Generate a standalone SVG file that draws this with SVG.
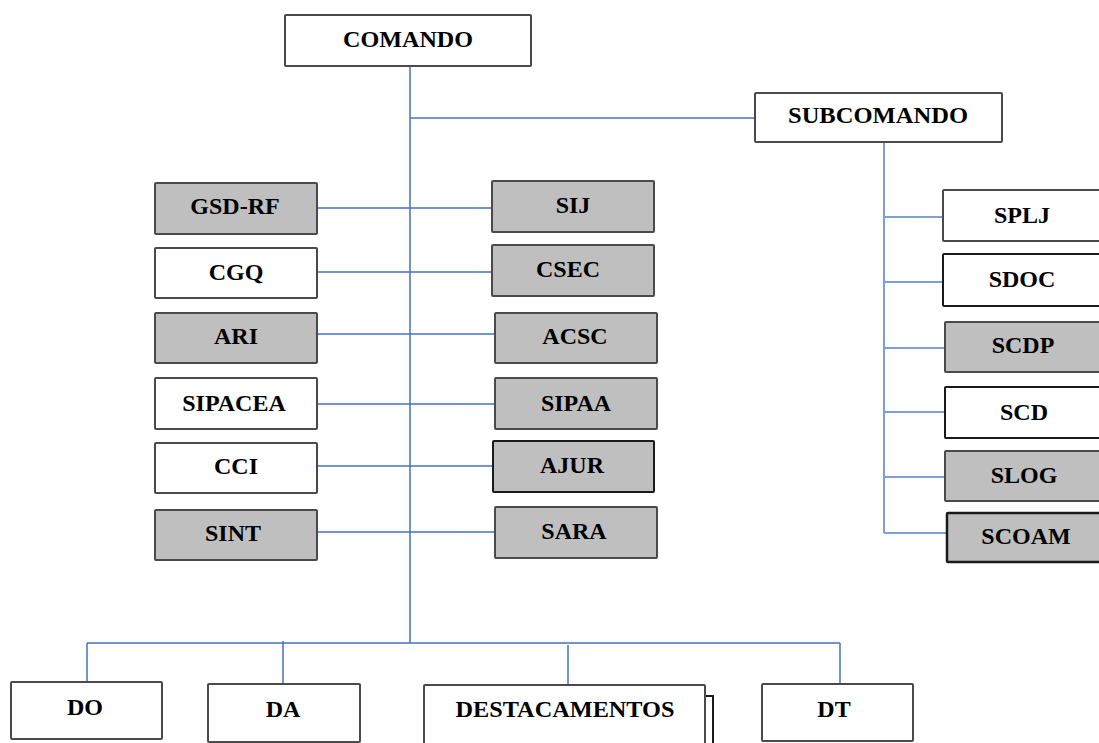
<svg xmlns="http://www.w3.org/2000/svg" width="1099" height="743" viewBox="0 0 1099 743">
<style>
.w{fill:#ffffff;stroke:#4a4a4a;stroke-width:2}
.g{fill:#bfbfbf;stroke:#4a4a4a;stroke-width:2}
.k{stroke:#1a1a1a}
text{font-family:"Liberation Serif","Times New Roman",serif;font-weight:bold;font-size:24px;fill:#000;text-anchor:middle}
.ln{fill:none;stroke:#4472c4;stroke-width:1.5}
.ls{fill:none;stroke:#7f9fdc;stroke-width:2}
</style>
<rect width="1099" height="743" fill="#ffffff"/>
<g id="connectors">
<path class="ln" d="M410 66V643M410 118H755M87 643H840M87 643V682M283 641V684M568 645V685M840 643V684"/>
<path class="ln" d="M317 208H492M317 272H492M317 334H495M317 404H495M317 466H493M317 532H495"/>
<path class="ls" d="M884 142V533M884 217H943M884 282H943M884 348H945M884 412H945M884 477H945M884 533H947"/>
</g>
<g id="comando"><rect class="w" x="285" y="15" width="246" height="51" rx="1"/><text x="408" y="47" textLength="130" lengthAdjust="spacingAndGlyphs">COMANDO</text></g>
<g id="subcomando"><rect class="w" x="755" y="93" width="247" height="49" rx="1"/><text x="878" y="123" textLength="180" lengthAdjust="spacingAndGlyphs">SUBCOMANDO</text></g>
<g id="gsd-rf"><rect class="g" x="155" y="183" width="162" height="51" rx="1"/><text x="235" y="214">GSD-RF</text></g>
<g id="cgq"><rect class="w" x="155" y="248" width="162" height="50" rx="1"/><text x="236" y="280">CGQ</text></g>
<g id="ari"><rect class="g" x="155" y="313" width="162" height="50" rx="1"/><text x="236" y="344">ARI</text></g>
<g id="sipacea"><rect class="w" x="155" y="378" width="162" height="51" rx="1"/><text x="234" y="411">SIPACEA</text></g>
<g id="cci"><rect class="w" x="155" y="443" width="162" height="50" rx="1"/><text x="236" y="474">CCI</text></g>
<g id="sint"><rect class="g" x="155" y="510" width="162" height="50" rx="1"/><text x="233" y="541">SINT</text></g>
<g id="sij"><rect class="g" x="492" y="181" width="162" height="51" rx="1"/><text x="573" y="213">SIJ</text></g>
<g id="csec"><rect class="g" x="492" y="245" width="162" height="51" rx="1"/><text x="568" y="277">CSEC</text></g>
<g id="acsc"><rect class="g" x="495" y="313" width="162" height="50" rx="1"/><text x="575" y="344">ACSC</text></g>
<g id="sipaa"><rect class="g" x="495" y="378" width="162" height="51" rx="1"/><text x="576" y="411">SIPAA</text></g>
<g id="ajur"><rect class="g k" x="493" y="441" width="161" height="51" rx="1"/><text x="572" y="473">AJUR</text></g>
<g id="sara"><rect class="g" x="495" y="507" width="162" height="51" rx="1"/><text x="574" y="539">SARA</text></g>
<g id="splj"><rect class="w" x="943" y="190" width="162" height="51" rx="1"/><text x="1022" y="223">SPLJ</text></g>
<g id="sdoc"><rect class="w k" x="943" y="254" width="162" height="52" rx="1"/><text x="1022" y="287">SDOC</text></g>
<g id="scdp"><rect class="g" x="945" y="322" width="162" height="50" rx="1"/><text x="1023" y="353">SCDP</text></g>
<g id="scd"><rect class="w k" x="945" y="387" width="162" height="51" rx="1"/><text x="1024" y="420">SCD</text></g>
<g id="slog"><rect class="g" x="945" y="451" width="162" height="50" rx="1"/><text x="1024" y="483">SLOG</text></g>
<g id="scoam"><rect class="g k" x="947" y="513" width="162" height="49" rx="1" style="stroke-width:2.5"/><text x="1026" y="544">SCOAM</text></g>
<g id="do"><rect class="w" x="11" y="682" width="151" height="57" rx="1"/><text x="85" y="715">DO</text></g>
<g id="da"><rect class="w" x="208" y="684" width="152" height="58" rx="1"/><text x="283" y="717">DA</text></g>
<g id="destacamentos"><path d="M705 696H713V745" fill="none" stroke="#1a1a1a" stroke-width="2"/><rect class="w" x="424" y="685" width="281" height="60" rx="1"/><text x="565" y="717" textLength="219" lengthAdjust="spacingAndGlyphs">DESTACAMENTOS</text></g>
<g id="dt"><rect class="w" x="762" y="684" width="151" height="57" rx="1"/><text x="834" y="717">DT</text></g>
</svg>
